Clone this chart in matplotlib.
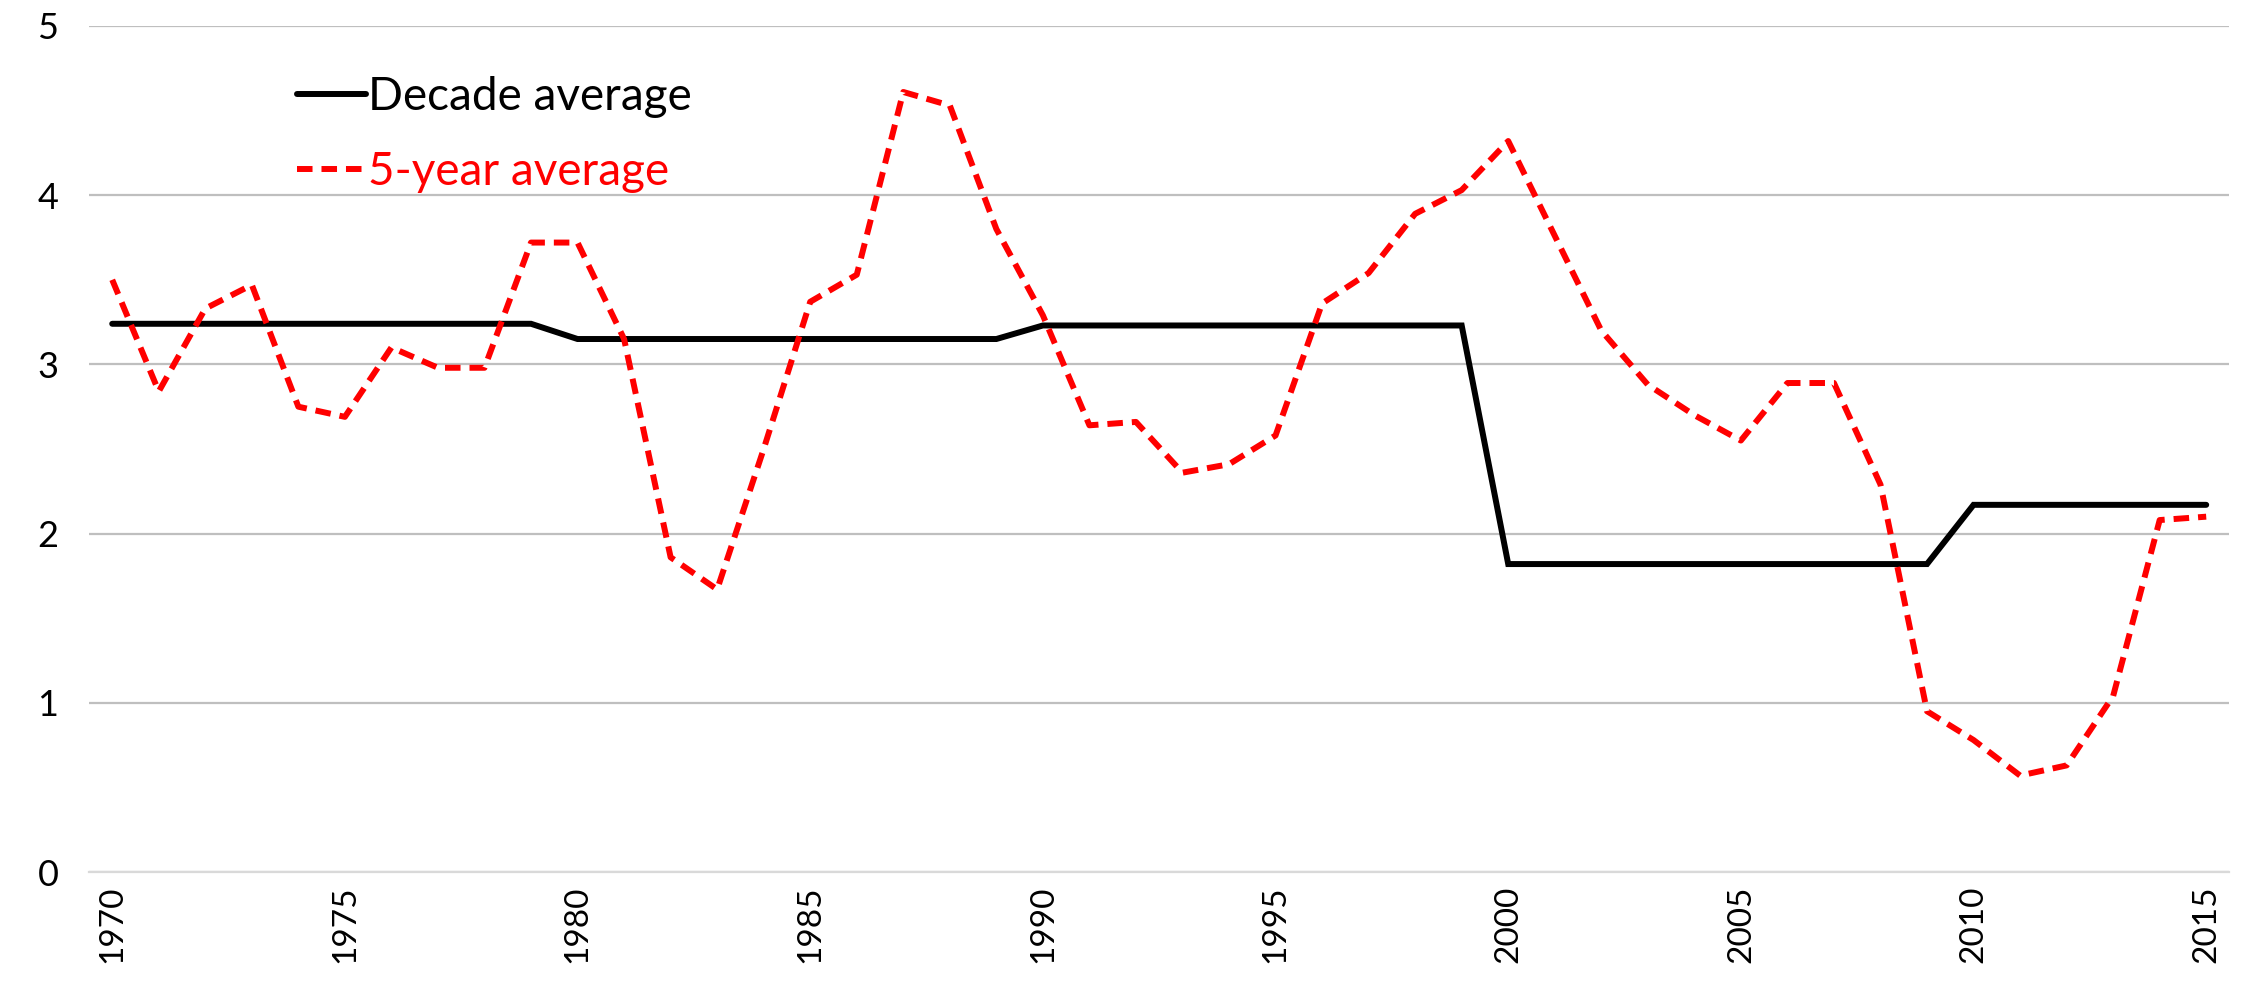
import matplotlib
matplotlib.use("Agg")
import matplotlib.pyplot as plt

plt.rcParams['font.family'] = ['Lato', 'DejaVu Sans']

# Years on the category axis
years = list(range(1970, 2016))

# Decade average (black solid)
decadeAvg = [3.24] * 10 + [3.15] * 10 + [3.23] * 10 + [1.82] * 10 + [2.17] * 6

# 5-year average (red dashed)
fiveYearAvg = [3.50, 2.84, 3.33, 3.47, 2.75, 2.69, 3.10, 2.98, 2.98, 3.72,
               3.72, 3.15, 1.86, 1.67, 2.50, 3.37, 3.53, 4.61, 4.53, 3.80,
               3.29, 2.64, 2.66, 2.36, 2.41, 2.58, 3.36, 3.54, 3.89, 4.03,
               4.32, 3.76, 3.20, 2.88, 2.70, 2.55, 2.89, 2.89, 2.29, 0.95,
               0.78, 0.57, 0.63, 1.04, 2.08, 2.10]

xTicks = list(range(1970, 2016, 5))
yTicks = [0, 1, 2, 3, 4, 5]

fig = plt.figure(figsize=(22.52, 9.88), dpi=100)
ax = fig.add_axes([0.0395, 0.1174, 0.9505, 0.8563])

ax.plot(years, decadeAvg, color='black', linewidth=4.3, label='Decade average',
        solid_joinstyle='miter', solid_capstyle='round', zorder=3)
ax.plot(years, fiveYearAvg, color='#FF0000', linewidth=4.3, linestyle=(0, (2.6, 1.5)),
        label='5-year average', zorder=4)

ax.set_xlim(1969.5, 2015.5)
ax.set_ylim(0, 5)
ax.set_xticks(xTicks)
ax.set_xticklabels([str(y) for y in xTicks], rotation=90)
ax.set_yticks(yTicks)
ax.tick_params(axis='both', length=0)
ax.tick_params(axis='y', labelsize=26, pad=22)
ax.tick_params(axis='x', labelsize=24, pad=10)

ax.grid(True, axis='y', color='#BFBFBF', linewidth=1.6)
ax.set_axisbelow(True)
for side in ['top', 'right', 'left']:
    ax.spines[side].set_visible(False)
ax.spines['bottom'].set_color('#D9D9D9')
ax.spines['bottom'].set_linewidth(1.6)

ax.legend(loc='upper left', bbox_to_anchor=(0.078, 0.99), frameon=False,
          fontsize=33, labelcolor='linecolor', handlelength=1.5,
          handletextpad=0.05, labelspacing=0.72)

fig.savefig('out.png', dpi=100)
